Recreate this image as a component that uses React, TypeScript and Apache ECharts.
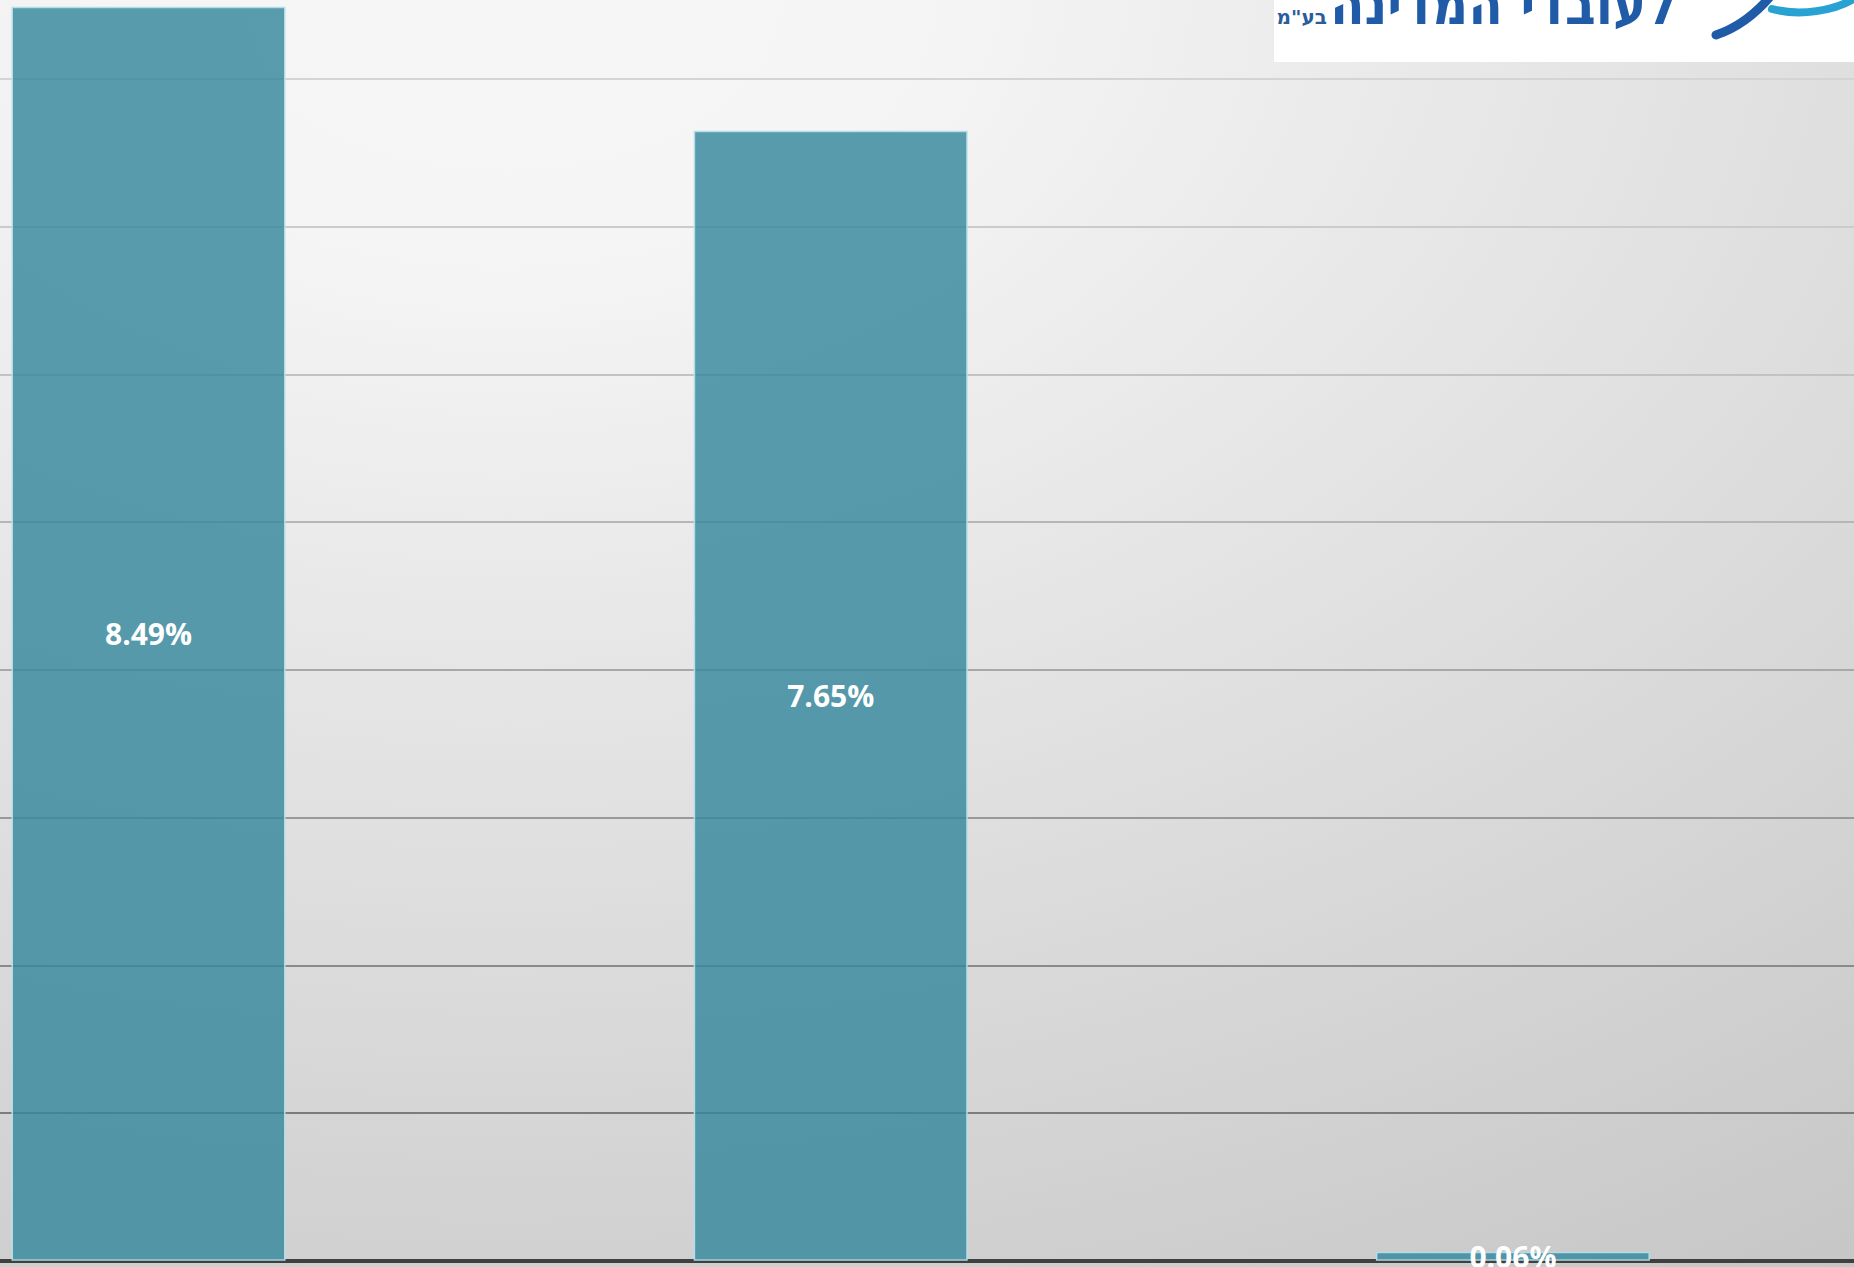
import React, { useEffect, useRef } from "react";
import * as echarts from "echarts";

// ---- data ----
const categories = ["A", "B", "C"];
const seriesValues = [8.49, 7.65, 0.06];
const yMin = 0;
const yMax = 9;
const yInterval = 1;
// grid line colours from value 0 (bottom) up to value 9 (top)
const gridLineColors = [
  "rgba(0,0,0,0)",
  "#7c7c7c",
  "#8a8a8a",
  "#999999",
  "#a8a8a8",
  "#b6b6b6",
  "#c2c2c2",
  "#cbcbcb",
  "#d4d4d4",
  "#dcdcdc",
];
const logoTitle = "לעובדי המדינה";
const logoSuffix = 'בע"מ';

// the visible picture is a crop of a larger chart: offset of the chart box
const OX = 195;
const OY = 69;

export default function App() {
  const ref = useRef<HTMLDivElement>(null);

  useEffect(() => {
    document.body.style.margin = "0";
    document.body.style.overflow = "hidden";
    document.documentElement.style.overflow = "hidden";
    if (!ref.current) return;
    const chart = echarts.init(ref.current, null, { renderer: "svg" });
    const option: any = {
      animation: false,
      backgroundColor: {
        type: "radial",
        x: 0.34,
        y: 0.04,
        r: 1.36,
        colorStops: [
          { offset: 0, color: "#f6f6f6" },
          { offset: 0.15, color: "#f5f5f5" },
          { offset: 1, color: "#bdbdbd" },
        ],
      },
      grid: {
        left: 2.4,
        top: 0.4,
        width: 2059,
        height: 1329.3,
        containLabel: false,
      },
      xAxis: {
        type: "category",
        data: categories,
        axisLine: { show: true, lineStyle: { color: "#404040", width: 4 } },
        axisTick: { show: false },
        axisLabel: { show: false },
        splitLine: { show: false },
      },
      yAxis: {
        type: "value",
        min: yMin,
        max: yMax,
        interval: yInterval,
        axisLine: { show: false },
        axisTick: { show: false },
        axisLabel: { show: false },
        splitLine: {
          show: true,
          lineStyle: { color: gridLineColors, width: 2 },
        },
      },
      series: [
        {
          type: "bar",
          data: seriesValues,
          barWidth: 274,
          itemStyle: {
            color: "rgba(53,135,158,0.82)",
            borderColor: "rgba(180,222,234,0.95)",
            borderWidth: 1.5,
          },
          label: {
            show: true,
            position: "inside",
            color: "#ffffff",
            fontFamily: "Open Sans",
            fontWeight: "bold",
            fontSize: 30,
            formatter: (p: any) => Number(p.value).toFixed(2) + "%",
          },
        },
      ],
      graphic: [
        {
          type: "rect",
          shape: { x: 1274 + OX, y: 0, width: 700, height: 62 + OY },
          style: { fill: "#ffffff" },
          z: 10,
        },
        {
          type: "text",
          x: 1677 + OX,
          y: 5 + OY,
          scaleX: 0.9,
          z: 11,
          style: {
            text: logoTitle,
            x: 0,
            y: 0,
            fill: "#1f5ba6",
            fontFamily: "DejaVu Sans",
            fontWeight: "bold",
            fontSize: 56,
            textAlign: "right",
            textVerticalAlign: "middle",
          },
        },
        {
          type: "text",
          x: 1327 + OX,
          y: 17 + OY,
          z: 11,
          style: {
            text: logoSuffix,
            x: 0,
            y: 0,
            fill: "#2b5d9c",
            fontFamily: "DejaVu Sans",
            fontWeight: "bold",
            fontSize: 20,
            textAlign: "right",
            textVerticalAlign: "middle",
          },
        },
        {
          type: "bezierCurve",
          z: 11,
          shape: {
            x1: 1716 + OX,
            y1: 35 + OY,
            cpx1: 1740 + OX,
            cpy1: 27 + OY,
            cpx2: 1758 + OX,
            cpy2: 12 + OY,
            x2: 1774 + OX,
            y2: -8 + OY,
          },
          style: { stroke: "#1f5ba6", lineWidth: 9, lineCap: "round", fill: null },
        },
        {
          type: "bezierCurve",
          z: 11,
          shape: {
            x1: 1772 + OX,
            y1: 9 + OY,
            cpx1: 1798 + OX,
            cpy1: 16 + OY,
            cpx2: 1836 + OX,
            cpy2: 12 + OY,
            x2: 1858 + OX,
            y2: -4 + OY,
          },
          style: { stroke: "#28a2d2", lineWidth: 8, lineCap: "round", fill: null },
        },
      ],
    };
    chart.setOption(option);
    return () => chart.dispose();
  }, []);

  return (
    <div
      ref={ref}
      style={{
        position: "absolute",
        left: -OX,
        top: -OY,
        width: 1854 + OX,
        height: 1267 + OY,
      }}
    />
  );
}
